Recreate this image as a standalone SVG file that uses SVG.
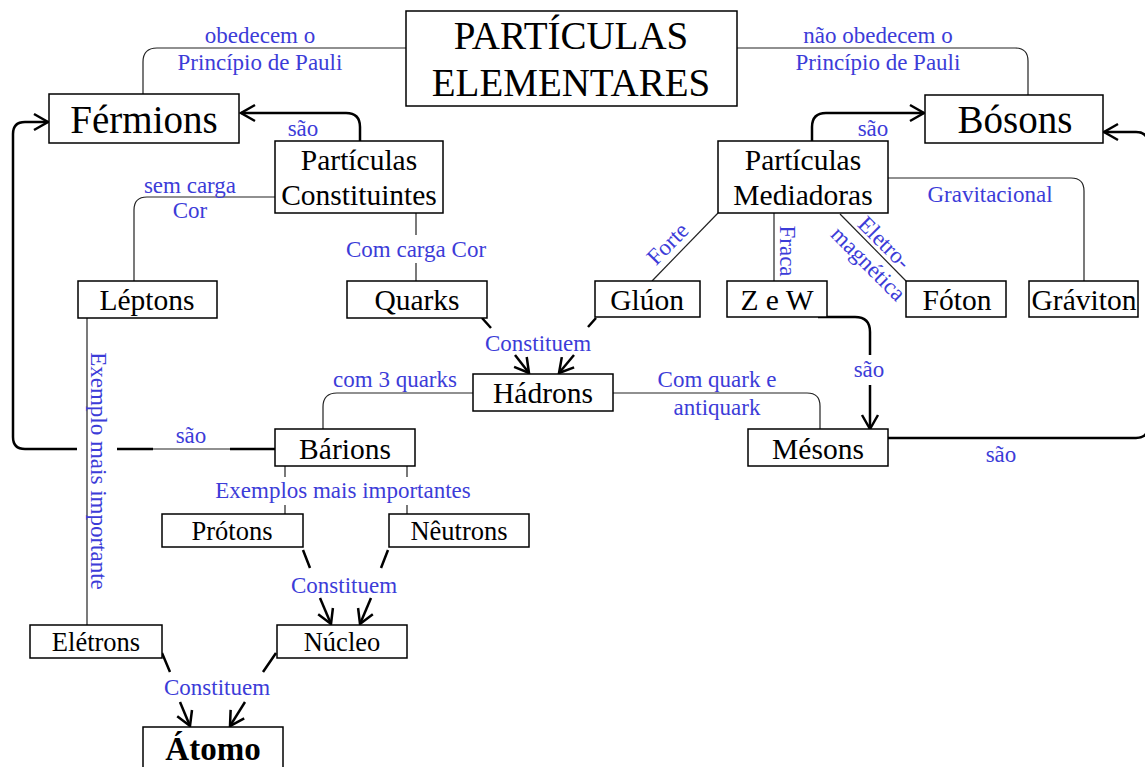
<svg xmlns="http://www.w3.org/2000/svg" width="1145" height="767" viewBox="0 0 1145 767">
<style>
.box{fill:#fff;stroke:#000;stroke-width:1.5}
.t{font-family:"Liberation Serif","Times New Roman",serif;fill:#000;text-anchor:middle}
.big{font-size:39px}
.mid{font-size:29.5px}
.low{font-size:26.5px}
.lab{font-family:"Liberation Serif","Times New Roman",serif;font-size:23px;fill:#3c3cd8;text-anchor:middle}
.thin{fill:none;stroke:#222;stroke-width:1.2}
.thick{fill:none;stroke:#000;stroke-width:2.5}
.arr{marker-end:url(#ah)}
</style>
<defs>
<marker id="ah" viewBox="0 0 16 18" refX="15" refY="9" markerWidth="16" markerHeight="18" markerUnits="userSpaceOnUse" orient="auto" overflow="visible">
<path d="M1,1 L15,9 L1,17" fill="none" stroke="#000" stroke-width="2.5"/>
</marker>
</defs>
<rect width="1145" height="767" fill="#fff"/>

<g id="connectors">
<path class="thin" d="M406,48 H157 Q143,48 143,62 V94"/>
<path class="thin" d="M737,48 H1015 Q1028,48 1028,61 V95"/>
<path class="thick arr" d="M360,141 V127 Q360,113 346,113 H241"/>
<path class="thick arr" d="M812,141 V127 Q812,113 826,113 H924"/>
<path class="thick arr" d="M888,438 H1136 Q1148,438 1148,426 V144 Q1148,132 1136,132 H1104"/>
<path class="thick" d="M275,449 H230"/>
<path class="thin" d="M230,449 H153"/>
<path class="thick" d="M153,449 H117"/>
<path class="thick arr" d="M77,449 H25 Q13,449 13,437 V134 Q13,122 25,122 H48"/>
<path class="thin" d="M275,197 H147 Q134,197 134,210 V281"/>
<path class="thin" d="M416,213 V235 M416,263 V281"/>
<path class="thick" d="M482,318 L491,328 M596,318 L588,327"/>
<path class="thick arr" d="M515,355 L529,373"/>
<path class="thick arr" d="M574,355 L559,373"/>
<path class="thin" d="M473,393 H337 Q323,393 323,407 V429"/>
<path class="thin" d="M613,393 H807 Q820,393 820,406 V429"/>
<path class="thin" d="M718,213 L652,281"/>
<path class="thin" d="M774,213 V281"/>
<path class="thin" d="M840,214 L906,281"/>
<path class="thin" d="M888,178 H1071 Q1084,178 1084,191 V281"/>
<path class="thick" d="M818,317 H855 Q870,317 870,332 V355"/>
<path class="thick arr" d="M870,385 V429"/>
<path class="thin" d="M87,318 V625"/>
<path class="thin" d="M285,466 V477 M285,505 V514 M407,466 V477 M407,505 V514"/>
<path class="thick" d="M303,550 L310,568 M388,550 L381,568"/>
<path class="thick arr" d="M320,598 L331,624"/>
<path class="thick arr" d="M371,598 L360,624"/>
<path class="thick" d="M162,653 L170,672 M276,653 L263,672"/>
<path class="thick arr" d="M180,702 L190,726"/>
<path class="thick arr" d="M245,702 L230,726"/>
<g id="connector-labels">
<text class="lab" x="260" y="43">obedecem o</text>
<text class="lab" x="260" y="70">Princípio de Pauli</text>
<text class="lab" x="878" y="43">não obedecem o</text>
<text class="lab" x="878" y="70">Princípio de Pauli</text>
<text class="lab" x="303" y="136">são</text>
<text class="lab" x="873" y="136">são</text>
<text class="lab" x="190" y="193">sem carga</text>
<text class="lab" x="190" y="218">Cor</text>
<text class="lab" x="416" y="257">Com carga Cor</text>
<text class="lab" x="990" y="202">Gravitacional</text>
<text class="lab" transform="translate(673,249) rotate(-45.4)">Forte</text>
<text class="lab" transform="translate(780,251) rotate(90)">Fraca</text>
<text class="lab" transform="translate(879,248) rotate(45)">Eletro-</text>
<text class="lab" transform="translate(863,269) rotate(45)">magnética</text>
<text class="lab" x="538" y="351">Constituem</text>
<text class="lab" x="395" y="387">com 3 quarks</text>
<text class="lab" x="717" y="387">Com quark e</text>
<text class="lab" x="717" y="415">antiquark</text>
<text class="lab" x="869" y="377">são</text>
<text class="lab" x="191" y="443">são</text>
<text class="lab" x="1001" y="462">são</text>
<text class="lab" transform="translate(91,471) rotate(90)">Exemplo mais importante</text>
<text class="lab" x="343" y="498">Exemplos mais importantes</text>
<text class="lab" x="344" y="593">Constituem</text>
<text class="lab" x="217" y="695">Constituem</text>
</g>
</g>

<g id="particulas-elementares">
<rect class="box" x="406" y="11" width="331" height="95"/>
<text class="t big" x="571" y="49">PARTÍCULAS</text>
<text class="t big" x="571" y="96">ELEMENTARES</text>
</g>
<g id="fermions">
<rect class="box" x="49" y="94" width="190" height="49"/>
<text class="t big" x="144" y="133">Férmions</text>
</g>
<g id="bosons">
<rect class="box" x="925" y="95" width="178" height="48"/>
<text class="t big" x="1015" y="133">Bósons</text>
</g>
<g id="particulas-constituintes">
<rect class="box" x="275" y="141" width="168" height="72"/>
<text class="t mid" x="359" y="170">Partículas</text>
<text class="t mid" x="359" y="205">Constituintes</text>
</g>
<g id="particulas-mediadoras">
<rect class="box" x="718" y="141" width="170" height="72"/>
<text class="t mid" x="803" y="170">Partículas</text>
<text class="t mid" x="803" y="205">Mediadoras</text>
</g>
<g id="leptons">
<rect class="box" x="78" y="281" width="139" height="37"/>
<text class="t mid" x="147" y="310">Léptons</text>
</g>
<g id="quarks">
<rect class="box" x="347" y="281" width="140" height="37"/>
<text class="t mid" x="417" y="310">Quarks</text>
</g>
<g id="gluon">
<rect class="box" x="595" y="281" width="105" height="36"/>
<text class="t mid" x="647" y="310">Glúon</text>
</g>
<g id="zew">
<rect class="box" x="727" y="281" width="100" height="36"/>
<text class="t mid" x="777" y="310">Z e W</text>
</g>
<g id="foton">
<rect class="box" x="906" y="281" width="100" height="36"/>
<text class="t mid" x="957" y="310">Fóton</text>
</g>
<g id="graviton">
<rect class="box" x="1029" y="281" width="109" height="36"/>
<text class="t mid" x="1084" y="310">Gráviton</text>
</g>
<g id="hadrons">
<rect class="box" x="473" y="374" width="140" height="37"/>
<text class="t mid" x="543" y="403">Hádrons</text>
</g>
<g id="barions">
<rect class="box" x="275" y="429" width="140" height="37"/>
<text class="t mid" x="345" y="459">Bárions</text>
</g>
<g id="mesons">
<rect class="box" x="748" y="429" width="140" height="37"/>
<text class="t mid" x="818" y="459">Mésons</text>
</g>
<g id="protons">
<rect class="box" x="162" y="514" width="141" height="33"/>
<text class="t low" x="232" y="540">Prótons</text>
</g>
<g id="neutrons">
<rect class="box" x="389" y="514" width="140" height="33"/>
<text class="t low" x="459" y="540">Nêutrons</text>
</g>
<g id="eletrons">
<rect class="box" x="30" y="625" width="132" height="33"/>
<text class="t low" x="96" y="651">Elétrons</text>
</g>
<g id="nucleo">
<rect class="box" x="277" y="625" width="130" height="33"/>
<text class="t low" x="342" y="651">Núcleo</text>
</g>
<g id="atomo">
<rect class="box" x="143" y="727" width="140" height="60"/>
<text class="t" x="213" y="760" style="font-size:33px;font-weight:bold">Átomo</text>
</g>
</svg>
